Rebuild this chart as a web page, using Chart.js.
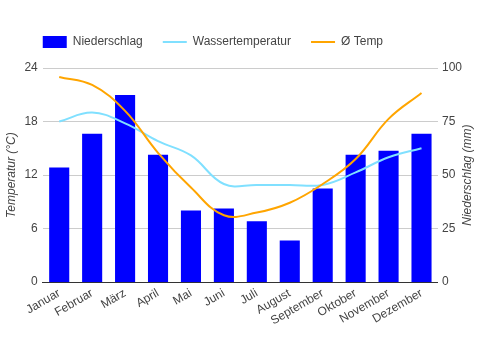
<!DOCTYPE html>
<html>
<head>
<meta charset="utf-8">
<script src="https://cdn.jsdelivr.net/npm/chart.js@4"></script>
<style>
  html, body { margin: 0; padding: 0; background: #fff; }
  #wrap { width: 481px; height: 350px; }
</style>
</head>
<body>
<div id="wrap"><canvas id="klima"></canvas></div>
<script>
const months = ['Januar', 'Februar', 'März', 'April', 'Mai', 'Juni', 'Juli', 'August', 'September', 'Oktober', 'November', 'Dezember']
const niederschlag = [53.5, 69.3, 87.4, 59.5, 33.5, 34.4, 28.4, 19.5, 43.7, 59.5, 61.4, 69.3]
const wassertemp = [18.0, 19.0, 17.8, 15.8, 14.2, 11.0, 10.9, 10.9, 10.9, 12.3, 14.0, 15.0]
const temp = [23.0, 22.1, 19.2, 14.5, 10.6, 7.5, 7.8, 8.9, 11.0, 13.8, 18.3, 21.2]
const tempTicks = [0, 6, 12, 18, 24]
const rainTicks = [0, 25, 50, 75, 100]

Chart.defaults.font.family = 'Arial, "Liberation Sans", sans-serif'
Chart.defaults.font.size = 12
Chart.defaults.color = '#444'

// legend starts at the plot's left edge, like the original
const shiftLegend = {
  id: 'shiftLegend',
  afterLayout(chart) {
    chart.legend.left = chart.chartArea.left - 20
    chart.legend.top = 16
  }
}

// right axis title reads bottom-to-top in the original
const rightTitle = {
  id: 'rightTitle',
  afterDraw(chart) {
    const { ctx, chartArea } = chart
    ctx.save()
    ctx.translate(chart.width - 13, (chartArea.top + chartArea.bottom) / 2)
    ctx.rotate(-Math.PI / 2)
    ctx.font = 'italic 12px Arial, "Liberation Sans", sans-serif'
    ctx.fillStyle = '#444'
    ctx.textAlign = 'center'
    ctx.textBaseline = 'middle'
    ctx.fillText('Niederschlag (mm)', 0, 0)
    ctx.restore()
  }
}

new Chart(document.getElementById('klima'), {
  type: 'bar',
  data: {
    labels: months,
    datasets: [
      {
        label: 'Niederschlag',
        data: niederschlag,
        yAxisID: 'y1',
        backgroundColor: '#0000ff',
        borderWidth: 0,
        barPercentage: 0.61,
        categoryPercentage: 1,
        pointStyle: 'rect',
        order: 2
      },
      {
        type: 'line',
        label: 'Wassertemperatur',
        data: wassertemp,
        yAxisID: 'y',
        borderColor: '#80e0ff',
        backgroundColor: '#80e0ff',
        borderWidth: 2,
        pointRadius: 0,
        tension: 0.4,
        pointStyle: 'line',
        order: 1
      },
      {
        type: 'line',
        label: 'Ø Temp',
        data: temp,
        yAxisID: 'y',
        borderColor: '#ffa500',
        backgroundColor: '#ffa500',
        borderWidth: 2,
        pointRadius: 0,
        tension: 0.4,
        pointStyle: 'line',
        order: 0
      }
    ]
  },
  options: {
    responsive: true,
    maintainAspectRatio: false,
    animation: false,
    layout: { padding: { left: 3, right: 15, top: 26, bottom: 18 } },
    plugins: {
      tooltip: { enabled: false },
      legend: {
        align: 'start',
        labels: {
          usePointStyle: true,
          pointStyleWidth: 24,
          boxHeight: 12,
          padding: 20,
          color: '#444',
          sort: (a, b) => a.datasetIndex - b.datasetIndex
        }
      }
    },
    scales: {
      x: {
        grid: { display: false, drawTicks: false },
        border: { color: '#333', width: 1 },
        ticks: { autoSkip: false, minRotation: 30, maxRotation: 30, padding: 4, color: '#444' }
      },
      y: {
        position: 'left',
        min: 0,
        max: 24,
        afterBuildTicks: axis => { axis.ticks = tempTicks.map(v => ({ value: v })) },
        grid: { color: '#cccccc', drawTicks: false },
        border: { display: false },
        ticks: { padding: 5, color: '#444' },
        title: { display: true, text: 'Temperatur (°C)', font: { style: 'italic', size: 12 }, color: '#444', padding: 1 }
      },
      y1: {
        position: 'right',
        min: 0,
        max: 100,
        afterBuildTicks: axis => { axis.ticks = rainTicks.map(v => ({ value: v })) },
        grid: { display: false, drawTicks: false },
        border: { display: false },
        ticks: { padding: 4, color: '#444' }
      }
    }
  },
  plugins: [shiftLegend, rightTitle]
})
</script>
</body>
</html>
